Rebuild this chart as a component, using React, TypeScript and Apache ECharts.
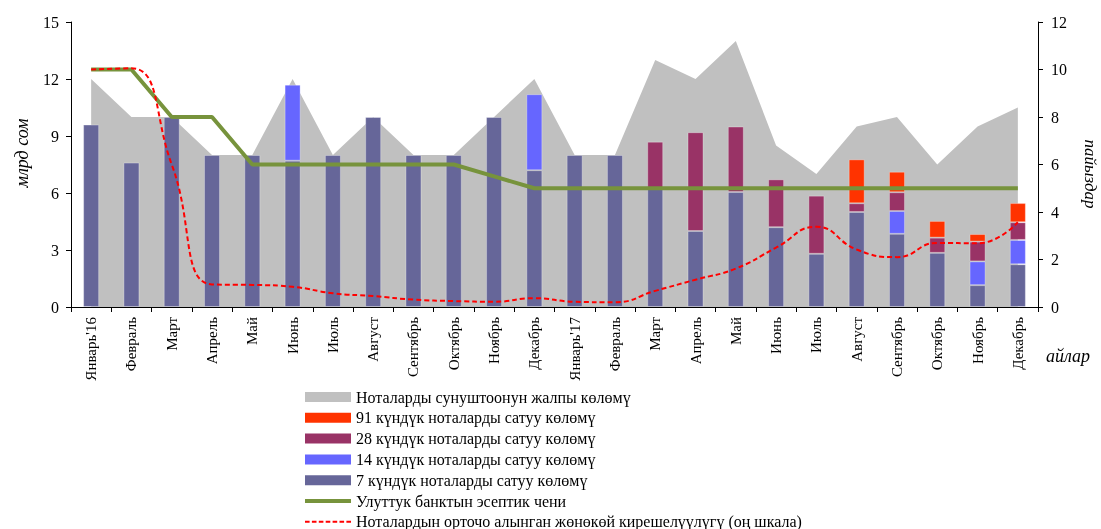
import React, { useEffect, useRef } from "react";
import * as echarts from "echarts";

const months = [
  "Январь'16", "Февраль", "Март", "Апрель", "Май", "Июнь", "Июль", "Август", "Сентябрь", "Октябрь", "Ноябрь", "Декабрь",
  "Январь'17", "Февраль", "Март", "Апрель", "Май", "Июнь", "Июль", "Август", "Сентябрь", "Октябрь", "Ноябрь", "Декабрь",
];

// billions of som (left axis)
const offerTotal = [12, 10, 10, 8, 8, 12, 8, 10, 8, 8, 10, 12, 8, 8, 13, 12, 14, 8.5, 7, 9.5, 10, 7.5, 9.5, 10.5];
const sales7 = [9.6, 7.6, 10, 8, 8, 7.7, 8, 10, 8, 8, 10, 7.2, 8, 8, 6.25, 4.0, 6.05, 4.2, 2.8, 5.0, 3.85, 2.85, 1.15, 2.25];
const sales14 = [null, null, null, null, null, 4.0, null, null, null, null, null, 4.0, null, null, null, null, null, null, null, null, 1.2, null, 1.25, 1.28];
const sales28 = [null, null, null, null, null, null, null, null, null, null, null, null, null, null, 2.45, 5.2, 3.45, 2.52, 3.06, 0.46, 0.99, 0.8, 1.04, 0.93];
const sales91 = [null, null, null, null, null, null, null, null, null, null, null, null, null, null, null, null, null, null, null, 2.31, 1.08, 0.88, 0.4, 1.01];

// percent (right axis)
const policyRate = [10, 10, 8, 8, 6, 6, 6, 6, 6, 6, 5.5, 5, 5, 5, 5, 5, 5, 5, 5, 5, 5, 5, 5, 5];
const avgYield = [10, 10.05, 6.0, 0.95, 0.93, 0.85, 0.58, 0.46, 0.31, 0.25, 0.22, 0.37, 0.22, 0.2, 0.68, 1.15, 1.62, 2.5, 3.38, 2.42, 2.1, 2.7, 2.68, 3.57];

const leftTicks = { min: 0, max: 15, interval: 3 };
const rightTicks = { min: 0, max: 12, interval: 2 };

const names = {
  total: "Ноталарды сунуштоонун жалпы көлөмү",
  d91: "91 күндүк ноталарды сатуу көлөмү",
  d28: "28 күндүк ноталарды сатуу көлөмү",
  d14: "14 күндүк ноталарды сатуу көлөмү",
  d7: "7 күндүк ноталарды сатуу көлөмү",
  rate: "Улуттук банктын эсептик чени",
  yield: "Ноталардын орточо алынган жөнөкөй кирешелүүлүгү (оң шкала)",
};

const FONT = "'Liberation Serif', 'Times New Roman', serif";

const dashIcon = (() => {
  let d = "path://";
  for (let i = 0; i < 7; i++) {
    const x = i * 6.9;
    d += `M${x},0 L${x + 4.6},0 L${x + 4.6},2 L${x},2 Z `;
  }
  return d.trim();
})();

export default function App() {
  const ref = useRef<HTMLDivElement>(null);
  useEffect(() => {
    if (!ref.current) return;
    const chart = echarts.init(ref.current, undefined, { renderer: "svg" });
    const axisLine = { show: true, lineStyle: { color: "#000", width: 1 } };
    const axisTick = { show: true, length: 5, inside: false, lineStyle: { color: "#000" } };
    const barBase = { type: "bar", stack: "sales", barWidth: 16, yAxisIndex: 0 };
    const barBorder = { borderColor: "rgba(255,255,255,0.3)", borderWidth: 1 };
    chart.setOption({
      animation: false,
      textStyle: { fontFamily: FONT },
      grid: { left: 71, right: 63, top: 22, bottom: 222, containLabel: false },
      xAxis: {
        type: "category",
        data: months,
        boundaryGap: true,
        axisLine,
        axisTick,
        axisLabel: { rotate: 90, interval: 0, fontSize: 15, color: "#000", fontFamily: FONT, margin: 10 },
        splitLine: { show: false },
      },
      yAxis: [
        {
          type: "value",
          ...leftTicks,
          position: "left",
          axisLine,
          axisTick,
          splitLine: { show: false },
          axisLabel: { fontSize: 16, color: "#000", fontFamily: FONT, margin: 12 },
        },
        {
          type: "value",
          ...rightTicks,
          position: "right",
          axisLine,
          axisTick,
          splitLine: { show: false },
          axisLabel: { fontSize: 16, color: "#000", fontFamily: FONT, margin: 13 },
        },
      ],
      legend: {
        orient: "vertical",
        left: 305,
        top: 389,
        height: 300,
        padding: 0,
        itemWidth: 46,
        itemHeight: 10,
        itemGap: 4.8,
        symbolKeepAspect: true,
        textStyle: { fontSize: 16, color: "#000", fontFamily: FONT },
        data: [
          { name: names.total, icon: "rect", itemStyle: { color: "#C0C0C0" } },
          { name: names.d91, icon: "rect", itemStyle: { borderWidth: 0 } },
          { name: names.d28, icon: "rect", itemStyle: { borderWidth: 0 } },
          { name: names.d14, icon: "rect", itemStyle: { borderWidth: 0 } },
          { name: names.d7, icon: "rect", itemStyle: { borderWidth: 0 } },
          { name: names.rate, icon: "path://M0,0 L46,0 L46,4 L0,4 Z", itemStyle: { color: "#77933C", borderWidth: 0 } },
          { name: names.yield, icon: dashIcon, itemStyle: { color: "#FF0000", borderWidth: 0 } },
        ],
      },
      graphic: [
        {
          type: "text",
          x: 22,
          y: 153,
          rotation: Math.PI / 2,
          style: { text: "млрд сом", font: `italic 18px ${FONT}`, fill: "#000", align: "center", verticalAlign: "middle" },
        },
        {
          type: "text",
          x: 1090,
          y: 174,
          rotation: -Math.PI / 2,
          style: { text: "пайыздар", font: `italic 17px ${FONT}`, fill: "#000", align: "center", verticalAlign: "middle" },
        },
        {
          type: "text",
          x: 1068,
          y: 356,
          style: { text: "айлар", font: `italic 18px ${FONT}`, fill: "#000", align: "center", verticalAlign: "middle" },
        },
      ],
      series: [
        {
          name: names.total,
          type: "line",
          yAxisIndex: 0,
          data: offerTotal,
          symbol: "none",
          lineStyle: { width: 0, color: "#C0C0C0" },
          areaStyle: { color: "#C0C0C0", opacity: 1 },
          itemStyle: { color: "#C0C0C0" },
          z: 1,
        },
        { ...barBase, name: names.d7, data: sales7, itemStyle: { color: "#666699", ...barBorder }, z: 2 },
        { ...barBase, name: names.d14, data: sales14, itemStyle: { color: "#6666FF", ...barBorder }, z: 2 },
        { ...barBase, name: names.d28, data: sales28, itemStyle: { color: "#993366", ...barBorder }, z: 2 },
        { ...barBase, name: names.d91, data: sales91, itemStyle: { color: "#FF3300", ...barBorder }, z: 2 },
        {
          name: names.rate,
          type: "line",
          yAxisIndex: 1,
          data: policyRate,
          symbol: "none",
          lineStyle: { width: 4, color: "#77933C" },
          itemStyle: { color: "#77933C" },
          z: 3,
        },
        {
          name: names.yield,
          type: "line",
          yAxisIndex: 1,
          data: avgYield,
          symbol: "none",
          smooth: 0.5,
          lineStyle: { width: 2, color: "#FF0000", type: [5, 3] },
          itemStyle: { color: "#FF0000" },
          z: 4,
        },
      ],
    });
    return () => chart.dispose();
  }, []);
  return <div ref={ref} style={{ position: "fixed", left: 0, top: 0, width: 1101, height: 529 }} />;
}
